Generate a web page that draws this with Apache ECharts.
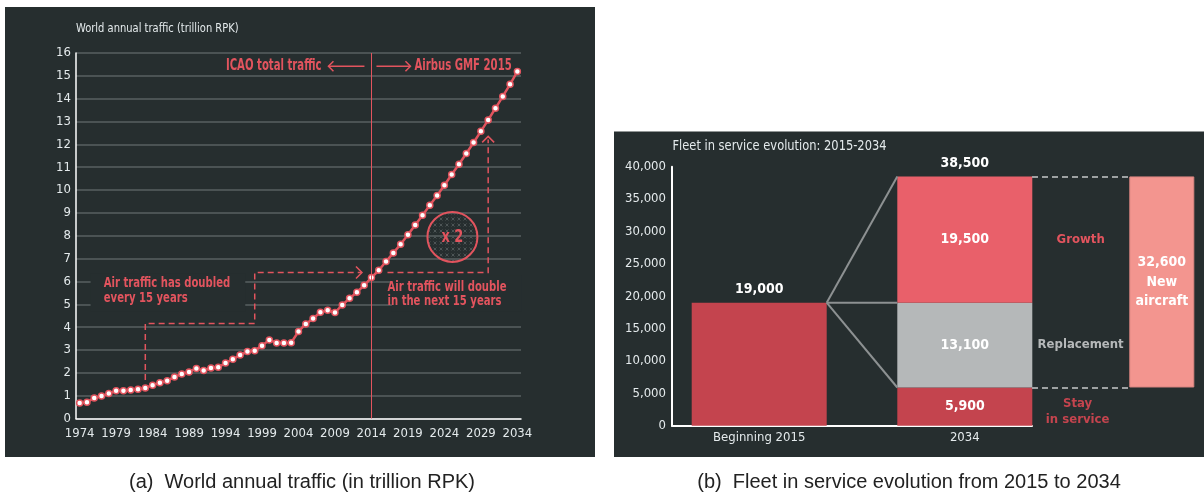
<!DOCTYPE html>
<html>
<head>
<meta charset="utf-8">
<script src="https://cdn.jsdelivr.net/npm/echarts@6.0.0/dist/echarts.min.js"></script>
<style>
  html, body { margin: 0; padding: 0; background: #ffffff; }
  #chart { width: 1204px; height: 493px; }
</style>
</head>
<body>
<div id="chart"></div>
<script>
// ---- World annual traffic, trillion RPK (ICAO history to 2014, Airbus GMF 2015 forecast after) ----
const years = [];
for (let y = 1974; y <= 2034; y++) years.push(String(y));
const trafficRpk = [
  0.68, 0.71, 0.90, 0.98, 1.09, 1.22, 1.22, 1.25, 1.28, 1.34,
  1.46, 1.56, 1.65, 1.82, 1.95, 2.04, 2.19, 2.10, 2.21, 2.24,
  2.43, 2.59, 2.78, 2.93, 2.97, 3.19, 3.44, 3.31, 3.30, 3.32,
  3.81, 4.14, 4.38, 4.65, 4.74, 4.64, 4.97, 5.26, 5.53, 5.83,
  6.17, 6.49, 6.87, 7.25, 7.63, 8.04, 8.47, 8.90, 9.33, 9.76,
  10.21, 10.68, 11.13, 11.60, 12.08, 12.57, 13.07, 13.58, 14.10, 14.63,
  15.19
];
const splitYear = '2014';

// ---- Fleet in service evolution 2015-2034 ----
const fleetCategories = ['Beginning 2015', '2034'];
const fleetStart = 19000;
const fleetStay = 5900;
const fleetReplacement = 13100;
const fleetGrowth = 19500;
const segmentNames = ['Stay\nin service', 'Replacement', 'Growth'];
const newAircraftName = 'New\naircraft';

const fleetTotal2034 = fleetStay + fleetReplacement + fleetGrowth;
const newAircraft = fleetReplacement + fleetGrowth;

// ---- styling ----
const NARROW = "'DejaVu Sans Condensed',sans-serif";
const BG = '#262e2f';
const GRID = '#596062';
const LIGHT = '#e4eaec';
const RED = '#e2545e';
const DARK_RED = '#c4444e';
const BAR_RED = '#e9606a';
const GREY = '#b5b8b9';
const PINK = '#f3958f';
const BAR_W = 135;
const fmt = v => Number(v).toLocaleString('en-US');

const fleetTop = 166.7, fleetH = 259;

const chart = echarts.init(document.getElementById('chart'), null, { renderer: 'canvas' });

const valueLabel = { show: true, position: 'inside', color: '#ffffff', fontFamily: NARROW, fontWeight: 'bold', fontSize: 14, formatter: p => fmt(p.value) };

const option = {
  backgroundColor: '#ffffff',
  animation: false,
  grid: [
    { left: 76, top: 53, width: 445, height: 365.5 },
    { left: 672, top: fleetTop, width: 360, height: fleetH },
    { left: 656.4, top: fleetTop, width: 411.2, height: fleetH },
    { left: 1032, top: fleetTop, width: 97.3, height: fleetH },
    { left: 1129.3, top: fleetTop, width: 65, height: fleetH }
  ],
  xAxis: [
    {
      type: 'category', gridIndex: 0, data: years, boundaryGap: true,
      axisLine: { lineStyle: { color: '#ffffff', width: 1.5 } },
      axisTick: { show: false },
      axisLabel: { interval: 4, color: LIGHT, fontSize: 13, fontFamily: NARROW, margin: 9 },
      splitLine: { show: false }
    },
    {
      type: 'value', gridIndex: 1, min: 0, max: 1,
      axisLine: { show: true, lineStyle: { color: '#ffffff', width: 2 } },
      axisTick: { show: false }, axisLabel: { show: false }, splitLine: { show: false }
    },
    {
      type: 'category', gridIndex: 2, data: fleetCategories,
      axisLine: { show: false }, axisTick: { show: false },
      axisLabel: { color: LIGHT, fontSize: 13, fontFamily: NARROW, margin: 5 }
    },
    { type: 'category', gridIndex: 3, data: [''], show: false },
    { type: 'category', gridIndex: 4, data: [''], show: false }
  ],
  yAxis: [
    {
      type: 'value', gridIndex: 0, min: 0, max: 16, interval: 1,
      axisLine: { show: true, lineStyle: { color: '#ffffff', width: 1.5 } },
      axisTick: { show: false },
      axisLabel: { color: LIGHT, fontSize: 13, fontFamily: NARROW, margin: 5 },
      splitLine: { lineStyle: { color: GRID, width: 1.5 } }
    },
    {
      type: 'value', gridIndex: 1, min: 0, max: 40000, interval: 5000,
      axisLine: { show: true, lineStyle: { color: '#ffffff', width: 2 } },
      axisTick: { show: false },
      axisLabel: { color: LIGHT, fontSize: 13, fontFamily: NARROW, margin: 6, formatter: v => fmt(v) },
      splitLine: { show: false }
    },
    { type: 'value', gridIndex: 2, min: 0, max: 40000, show: false },
    { type: 'value', gridIndex: 3, min: 0, max: 40000, show: false },
    { type: 'value', gridIndex: 4, min: 0, max: 40000, show: false }
  ],
  series: [
    {
      name: 'World annual traffic', type: 'line', xAxisIndex: 0, yAxisIndex: 0,
      data: trafficRpk, z: 3,
      lineStyle: { color: RED, width: 2.5 },
      symbol: 'circle', symbolSize: 6, showAllSymbol: true,
      itemStyle: { color: '#ffffff', borderColor: RED, borderWidth: 1.5 },
      markLine: {
        silent: true, symbol: 'none', label: { show: false },
        lineStyle: { color: RED, width: 1, type: 'solid' },
        data: [{ xAxis: splitYear }]
      }
    },
    // fleet bars
    {
      name: 'Fleet', type: 'bar', xAxisIndex: 2, yAxisIndex: 2, stack: 'fleet', barWidth: BAR_W,
      itemStyle: { color: DARK_RED },
      label: valueLabel,
      data: [{ value: fleetStart, label: { show: false } }, fleetStay]
    },
    {
      name: 'Replacement', type: 'bar', xAxisIndex: 2, yAxisIndex: 2, stack: 'fleet', barWidth: BAR_W,
      itemStyle: { color: GREY }, label: valueLabel,
      data: ['-', fleetReplacement]
    },
    {
      name: 'Growth', type: 'bar', xAxisIndex: 2, yAxisIndex: 2, stack: 'fleet', barWidth: BAR_W,
      itemStyle: { color: BAR_RED }, label: valueLabel,
      data: ['-', fleetGrowth]
    },
    {
      name: 'Total', type: 'bar', xAxisIndex: 2, yAxisIndex: 2, stack: 'fleet', barWidth: BAR_W,
      itemStyle: { color: 'rgba(0,0,0,0)' },
      label: {
        show: true, position: 'top', distance: 6, color: '#ffffff', fontFamily: NARROW,
        fontWeight: 'bold', fontSize: 14,
        formatter: p => fmt([fleetStart, fleetTotal2034][p.dataIndex])
      },
      data: [0, 0]
    },
    // connector lines between the two fleet bars
    {
      type: 'custom', xAxisIndex: 2, yAxisIndex: 2, silent: true, z: 3,
      data: [[0, fleetStart]],
      renderItem: (params, api) => {
        const half = BAR_W / 2;
        const from = api.coord([0, fleetStart]);
        const levels = [fleetTotal2034, fleetStay + fleetReplacement, fleetStay];
        return {
          type: 'group',
          children: levels.map(v => {
            const to = api.coord([1, v]);
            return {
              type: 'line',
              shape: { x1: from[0] + half, y1: from[1], x2: to[0] - half, y2: to[1] },
              style: { stroke: '#8d9192', lineWidth: 2 }
            };
          })
        };
      }
    },
    // segment names in the gap column
    ...[fleetStay, fleetReplacement, fleetGrowth].map((v, i) => ({
      name: segmentNames[i], type: 'bar', xAxisIndex: 3, yAxisIndex: 3, stack: 'names', barWidth: '100%',
      itemStyle: { color: 'rgba(0,0,0,0)' },
      label: {
        show: true, position: 'inside', fontFamily: NARROW, fontWeight: 'bold', fontSize: 13,
        lineHeight: 16,
        color: [DARK_RED, GREY, RED][i],
        offset: i === 0 ? [-3, 5] : [0, 0],
        formatter: () => segmentNames[i]
      },
      data: [v],
      markLine: i === 0 ? {
        silent: true, symbol: 'none', label: { show: false },
        lineStyle: { color: '#9ea2a3', width: 2, type: [6, 4] },
        data: [{ yAxis: fleetTotal2034 }, { yAxis: fleetStay }]
      } : undefined
    })),
    // new aircraft column
    {
      name: 'base', type: 'bar', xAxisIndex: 4, yAxisIndex: 4, stack: 'new', barWidth: '100%',
      itemStyle: { color: 'rgba(0,0,0,0)' }, data: [fleetStay]
    },
    {
      name: 'New aircraft', type: 'bar', xAxisIndex: 4, yAxisIndex: 4, stack: 'new', barWidth: '100%',
      itemStyle: { color: PINK, borderColor: '#d98580', borderWidth: 1 },
      label: {
        show: true, position: 'inside', color: '#ffffff', fontFamily: NARROW, fontWeight: 'bold',
        fontSize: 14, lineHeight: 19.5,
        formatter: () => fmt(newAircraft) + '\n' + newAircraftName
      },
      data: [newAircraft]
    }
  ]
};

chart.setOption(option);

// ---- annotations, placed through the traffic axes ----
const xFirst = chart.convertToPixel({ xAxisIndex: 0 }, years[0]);
const xLast = chart.convertToPixel({ xAxisIndex: 0 }, years[years.length - 1]);
const xAt = yr => xFirst + (yr - 1974) * (xLast - xFirst) / (years.length - 1);
const yAt = v => chart.convertToPixel({ yAxisIndex: 0 }, v);
const pt = (yr, v) => [xAt(yr), yAt(v)];

const tile = document.createElement('canvas');
tile.width = 6; tile.height = 6;
const g = tile.getContext('2d');
g.strokeStyle = '#4d5556'; g.lineWidth = 1;
g.beginPath();
g.moveTo(1.5, 1.5); g.lineTo(4.5, 4.5);
g.moveTo(4.5, 1.5); g.lineTo(1.5, 4.5);
g.stroke();

const L = xAt(2014);
const yHead = yAt(15.42);
const dash = { stroke: RED, lineWidth: 1.5, lineDash: [6, 4], fill: null };
const solid = { stroke: RED, lineWidth: 1.5, fill: null };

// condensed text: the glyphs are narrowed with a horizontal scale around the anchor
const cText = (id, text, x, y, o) => ({
  type: 'text', id, z: 10, x, y, scaleX: o.sx || 1,
  style: {
    text, x: 0, y: 0, align: o.align || 'left', verticalAlign: 'middle',
    fill: o.fill || RED, fontFamily: o.font || NARROW, fontWeight: o.weight || 'bold',
    fontSize: o.size || 15, lineHeight: o.lh || 15
  }
});

const pastStep = [pt(1983, 1.68), pt(1983, 4.16), pt(1998, 4.16), pt(1998, 6.39), pt(2012.7, 6.39)];
const futureStep = [pt(2016.2, 6.39), pt(2030, 6.39), pt(2030, 12.35)];
const pA = pastStep[pastStep.length - 1];
const fA = futureStep[futureStep.length - 1];
const box1a = pt(1975.5, 6.36), box1b = pt(1996.7, 4.7);
const box2a = pt(2016.8, 6.26), box2b = pt(2034.6, 4.7);
const ring = pt(2025.1, 7.95);

chart.setOption({
  graphic: [
    { type: 'rect', id: 'panelA', z: -10, shape: { x: 5, y: 7, width: 590, height: 450 }, style: { fill: BG } },
    { type: 'rect', id: 'panelB', z: -10, shape: { x: 614, y: 131.5, width: 590, height: 325.5 }, style: { fill: BG } },
    cText('titleA', 'World annual traffic (trillion RPK)', 76, 29, { sx: 0.85, fill: LIGHT, weight: 'normal', size: 13 }),
    cText('titleB', 'Fleet in service evolution: 2015-2034', 672.5, 146.7, { sx: 0.91, fill: LIGHT, weight: 'normal', size: 14 }),
    cText('capA', '(a)  World annual traffic (in trillion RPK)', 302, 482, { align: 'center', fill: '#222222', weight: 'normal', size: 20, font: "'Liberation Sans',sans-serif" }),
    cText('capB', '(b)  Fleet in service evolution from 2015 to 2034', 909, 482, { align: 'center', fill: '#222222', weight: 'normal', size: 20, font: "'Liberation Sans',sans-serif" }),

    // source labels either side of the 2014 split
    cText('icao', 'ICAO total traffic', L - 50, yHead, { align: 'right', sx: 0.75 }),
    cText('gmf', 'Airbus GMF 2015', L + 43, yHead, { align: 'left', sx: 0.75 }),
    { type: 'polyline', id: 'arrL', z: 10, shape: { points: [[L - 7, yHead], [L - 43, yHead]] }, style: solid },
    { type: 'polyline', id: 'arrLh', z: 10, shape: { points: [[L - 38, yHead - 5], [L - 43, yHead], [L - 38, yHead + 5]] }, style: solid },
    { type: 'polyline', id: 'arrR', z: 10, shape: { points: [[L + 5, yHead], [L + 39, yHead]] }, style: solid },
    { type: 'polyline', id: 'arrRh', z: 10, shape: { points: [[L + 34, yHead - 5], [L + 39, yHead], [L + 34, yHead + 5]] }, style: solid },

    // doubling steps
    { type: 'polyline', id: 'past', z: 4, shape: { points: pastStep }, style: dash },
    { type: 'polyline', id: 'pastHead', z: 4, shape: { points: [[pA[0] - 6, pA[1] - 6], pA, [pA[0] - 6, pA[1] + 6]] }, style: solid },
    { type: 'polyline', id: 'future', z: 4, shape: { points: futureStep.slice(0, 2).concat([[fA[0], fA[1] + 3]]) }, style: dash },
    { type: 'polyline', id: 'futureHead', z: 4, shape: { points: [[fA[0] - 6, fA[1] + 6], fA, [fA[0] + 6, fA[1] + 6]] }, style: solid },

    // text boxes masking the grid lines
    { type: 'rect', id: 'box1', z: 1, shape: { x: box1a[0], y: box1a[1], width: box1b[0] - box1a[0], height: box1b[1] - box1a[1] }, style: { fill: BG } },
    { type: 'rect', id: 'box2', z: 1, shape: { x: box2a[0], y: box2a[1], width: box2b[0] - box2a[0], height: box2b[1] - box2a[1] }, style: { fill: BG } },
    cText('note1', 'Air traffic has doubled\nevery 15 years', xAt(1977.3), yAt(5.58), { sx: 0.8, size: 14, lh: 15 }),
    cText('note2', 'Air traffic will double\nin the next 15 years', xAt(2016.2), yAt(5.43), { sx: 0.8, size: 14, lh: 14 }),

    // x2 badge
    { type: 'circle', id: 'ring', z: 4, shape: { cx: ring[0], cy: ring[1], r: 25 }, style: { fill: { image: tile, repeat: 'repeat' }, stroke: RED, lineWidth: 2 } },
    cText('ringText', 'x 2', ring[0], ring[1] + 1, { align: 'center', sx: 0.85, size: 17 })
  ]
});
</script>
</body>
</html>
